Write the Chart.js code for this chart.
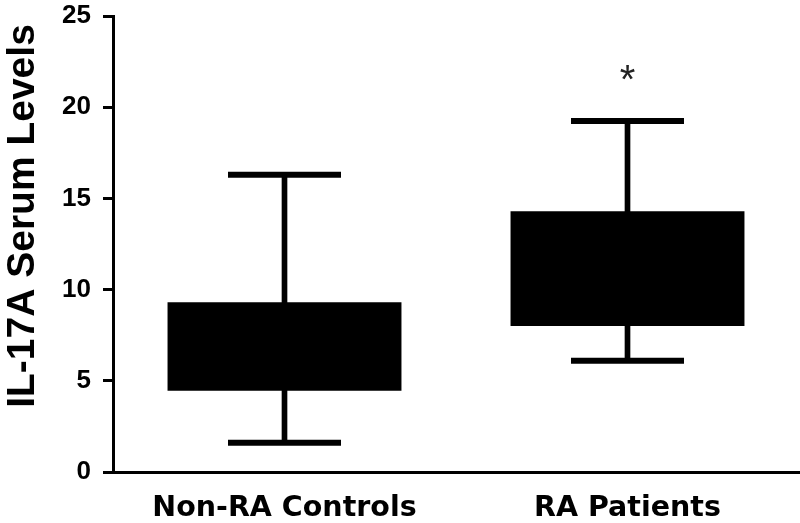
<!DOCTYPE html>
<html>
<head>
<meta charset="utf-8">
<script src="https://cdn.jsdelivr.net/npm/chart.js@4"></script>
<style>
  html, body { margin: 0; padding: 0; background: #ffffff; }
  #wrap { width: 800px; height: 523px; }
</style>
</head>
<body>
<div id="wrap"><canvas id="c" width="800" height="523"></canvas></div>
<script>
// ---- data ----
const categories   = ['Non-RA Controls', 'RA Patients'];
const whiskerLow   = [1.6, 6.1];
const q1           = [4.45, 8.0];
const q3           = [9.3, 14.3];
const whiskerHigh  = [16.3, 19.25];
const significance = ['', '*'];
const sigLevel     = [0, 21.9];
const yTicks       = [0, 5, 10, 15, 20, 25];
const yTitle       = 'IL-17A Serum Levels';

const boxRanges     = categories.map((c, i) => [q1[i], q3[i]]);
const whiskerRanges = categories.map((c, i) => [whiskerLow[i], whiskerHigh[i]]);

const yTitlePlugin = {
  id: 'yTitlePlugin',
  afterDraw(chart) {
    const ctx = chart.ctx;
    ctx.save();
    ctx.font = 'bold 39px "Liberation Sans", Arial, sans-serif';
    ctx.fillStyle = '#000';
    ctx.textAlign = 'center';
    ctx.textBaseline = 'alphabetic';
    ctx.translate(34, 216);
    ctx.rotate(-Math.PI / 2);
    ctx.fillText(yTitle, 0, 0);
    ctx.restore();
  }
};

const sigPlugin = {
  id: 'sigPlugin',
  afterDatasetsDraw(chart) {
    const ctx = chart.ctx;
    const xs = chart.scales.x, ys = chart.scales.y;
    ctx.save();
    ctx.font = '40px "Liberation Sans", Arial, sans-serif';
    ctx.fillStyle = '#222';
    ctx.textAlign = 'center';
    ctx.textBaseline = 'alphabetic';
    significance.forEach((s, i) => {
      if (!s) return;
      const m = ctx.measureText(s);
      const cx = xs.getPixelForValue(i);
      const cy = ys.getPixelForValue(sigLevel[i]);
      const base = cy + (m.actualBoundingBoxAscent - m.actualBoundingBoxDescent) / 2;
      ctx.fillText(s, cx, base);
    });
    ctx.restore();
  }
};

new Chart(document.getElementById('c'), {
  data: {
    labels: categories,
    datasets: [
      {
        type: 'bar',
        label: 'Whisker',
        data: whiskerRanges,
        backgroundColor: '#000',
        borderWidth: 0,
        barThickness: 5,
        grouped: false,
        order: 3
      },
      {
        type: 'bar',
        label: 'IQR',
        data: boxRanges,
        backgroundColor: '#000',
        borderWidth: 0,
        barPercentage: 0.682,
        categoryPercentage: 1,
        grouped: false,
        order: 2
      },
      {
        type: 'line',
        label: 'Max',
        data: whiskerHigh,
        showLine: false,
        pointStyle: 'line',
        pointRadius: 56.5,
        pointHoverRadius: 56.5,
        borderColor: '#000',
        pointBorderWidth: 6,
        borderWidth: 6,
        clip: false,
        order: 1
      },
      {
        type: 'line',
        label: 'Min',
        data: whiskerLow,
        showLine: false,
        pointStyle: 'line',
        pointRadius: 56.5,
        pointHoverRadius: 56.5,
        borderColor: '#000',
        pointBorderWidth: 6,
        borderWidth: 6,
        clip: false,
        order: 1
      }
    ]
  },
  options: {
    responsive: false,
    animation: false,
    layout: { autoPadding: false, padding: { left: 0, right: 1, top: 16, bottom: 0 } },
    plugins: { legend: { display: false }, tooltip: { enabled: false } },
    scales: {
      x: {
        type: 'category',
        offset: true,
        grid: { display: true, drawOnChartArea: false, drawTicks: false },
        border: { display: true, color: '#000', width: 3 },
        ticks: {
          color: '#000',
          padding: 19,
          maxRotation: 0,
          font: { family: '"DejaVu Sans", Verdana, sans-serif', weight: 'bold', size: 28.5 }
        },
        afterFit(scale) { scale.height = 51; }
      },
      y: {
        min: 0,
        max: 25,
        afterBuildTicks(scale) { scale.ticks = yTicks.map(v => ({ value: v })); },
        grid: { display: true, drawOnChartArea: false, drawTicks: true, tickLength: 10, tickWidth: 3, tickColor: '#000' },
        border: { display: true, color: '#000', width: 3 },
        ticks: {
          color: '#000',
          padding: 12,
          font: { family: '"Liberation Sans", Arial, sans-serif', weight: 'bold', size: 26 }
        },
        afterFit(scale) { scale.width = 113; scale.paddingTop = 0; scale.paddingBottom = 0; }
      }
    }
  },
  plugins: [yTitlePlugin, sigPlugin]
});
</script>
</body>
</html>
